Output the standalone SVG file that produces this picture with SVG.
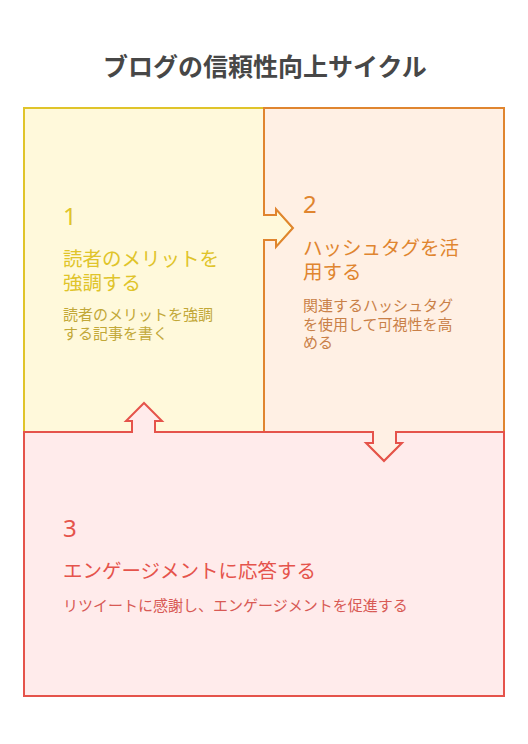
<svg xmlns="http://www.w3.org/2000/svg" width="528" height="744" viewBox="0 0 528 744">
<style>
text{font-family:"Noto Sans","Noto Sans CJK JP",sans-serif}
.title{font-size:25px;font-weight:bold;fill:#474747}
.num{font-size:24px}
.head{font-size:19.5px}
.desc{font-size:15px}
.y .num,.y .head{fill:#E0C42A}
.y .desc{fill:#C2A838}
.o .num,.o .head{fill:#E0852F}
.o .desc{fill:#C98048}
.r .num,.r .head{fill:#E5534B}
.r .desc{fill:#D85A55}
.shape{stroke-width:2;stroke-linejoin:miter}
</style>
<rect width="528" height="744" fill="#ffffff"/>
<text class="title" x="265" y="76" text-anchor="middle">ブログの信頼性向上サイクル</text>
<g id="node1" class="y">
<path class="shape" d="M24,108 H264 V215 H276 V209 L293,228 L276,247 V240 H264 V432 H24 Z" fill="#FFF9DB" stroke="#E0C42A"/>
<text class="num" x="63" y="225">1</text>
<text class="head" x="63" y="266"><tspan x="63">読者のメリットを</tspan><tspan x="63" dy="24">強調する</tspan></text>
<text class="desc" x="63" y="320"><tspan x="63">読者のメリットを強調</tspan><tspan x="63" dy="18.5">する記事を書く</tspan></text>
</g>
<g id="node2" class="o">
<path class="shape" d="M264,108 H504 V432 H396 V443 H402 L384,461 L366,443 H373 V432 H264 V240 H276 V247 L293,228 L276,209 V215 H264 Z" fill="#FFF0E4" stroke="#E0852F"/>
<text class="num" x="303" y="213">2</text>
<text class="head" x="303" y="254.5"><tspan x="303">ハッシュタグを活</tspan><tspan x="303" dy="24">用する</tspan></text>
<text class="desc" x="303" y="311"><tspan x="303">関連するハッシュタグ</tspan><tspan x="303" dy="18.5">を使用して可視性を高</tspan><tspan x="303" dy="18.5">める</tspan></text>
</g>
<g id="node3" class="r">
<path class="shape" d="M24,432 H132 V421 H126 L144,403 L162,421 H155 V432 H373 V443 H366 L384,461 L402,443 H396 V432 H504 V696 H24 Z" fill="#FFEBEB" stroke="#E5534B"/>
<text class="num" x="63" y="537">3</text>
<text class="head" x="63" y="578">エンゲージメントに応答する</text>
<text class="desc" x="63" y="611">リツイートに感謝し、エンゲージメントを促進する</text>
</g>
<g id="connectors"></g>
</svg>
